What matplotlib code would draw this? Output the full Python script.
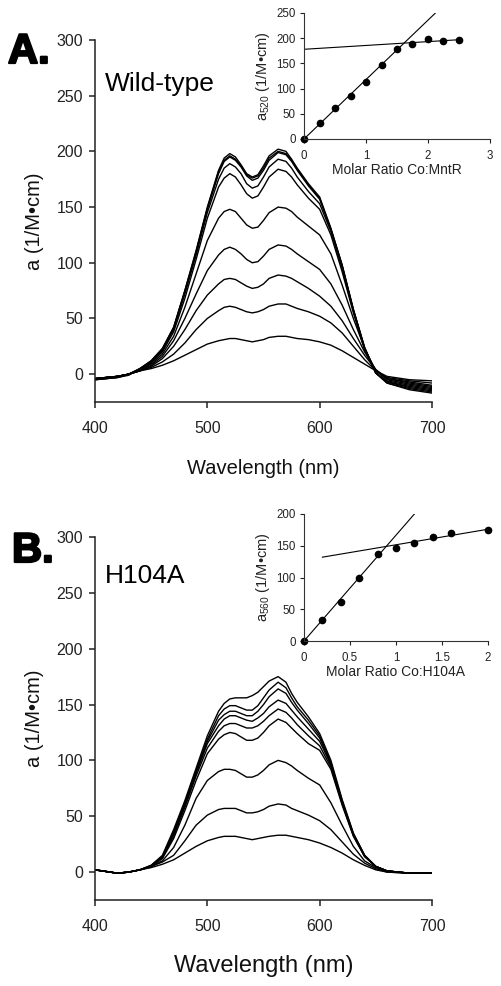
import matplotlib
matplotlib.use("Agg")
import matplotlib.pyplot as plt
import matplotlib.patheffects as pe

plt.rcParams['font.family'] = ['Liberation Sans', 'DejaVu Sans']
plt.rcParams['mathtext.fontset'] = 'custom'
plt.rcParams['mathtext.rm'] = 'Liberation Sans'

# ---------------- data ----------------
wavelength = [400, 420, 430, 440, 450, 460, 470, 480, 490, 500, 510, 515, 520, 525, 530, 535, 540,
              545, 550, 555, 563, 570, 575, 580, 590, 600, 610, 620, 630, 640, 650, 660, 680, 700]

# Panel A (wild-type) spectra, a (1/M*cm)
wt_1 = [-4, -2, 0, 3, 5, 8, 12, 17, 22, 27, 30, 31, 32, 32, 31, 30, 29, 30, 31, 33, 34, 34, 33, 32, 31, 29, 26, 21, 15, 9, 3, -2, -5, -6]
wt_2 = [-4, -2, 0, 3, 6, 11, 18, 28, 40, 50, 57, 60, 61, 60, 58, 56, 55, 56, 58, 61, 63, 63, 61, 59, 56, 52, 46, 37, 25, 13, 3, -3, -6, -8]
wt_3 = [-4, -2, 0, 3, 7, 14, 25, 40, 57, 71, 81, 85, 86, 85, 82, 79, 77, 78, 81, 86, 89, 88, 86, 83, 77, 70, 61, 48, 32, 17, 4, -4, -7, -10]
wt_4 = [-4, -2, 0, 3, 8, 16, 30, 50, 72, 93, 107, 112, 114, 112, 108, 103, 100, 101, 106, 112, 116, 115, 112, 108, 101, 94, 81, 62, 40, 20, 4, -4, -8, -11]
wt_5 = [-4, -2, 0, 4, 9, 18, 34, 60, 90, 120, 140, 146, 148, 146, 140, 134, 131, 132, 138, 145, 150, 149, 146, 141, 133, 125, 108, 80, 50, 23, 3, -5, -9, -12]
wt_6 = [-4, -2, 0, 4, 10, 20, 38, 68, 103, 140, 168, 176, 180, 177, 170, 162, 158, 160, 168, 177, 184, 182, 177, 170, 158, 148, 125, 92, 55, 22, 1, -6, -10, -13]
wt_7 = [-4, -2, 0, 4, 11, 21, 40, 72, 107, 145, 175, 185, 189, 186, 180, 171, 167, 169, 177, 186, 193, 191, 185, 177, 164, 153, 128, 95, 57, 23, 1, -7, -11, -14]
wt_8 = [-5, -3, 0, 5, 11, 22, 41, 74, 109, 148, 180, 191, 195, 192, 186, 178, 174, 176, 183, 192, 199, 197, 191, 183, 169, 157, 130, 97, 58, 23, 1, -7, -12, -15]
wt_9 = [-5, -3, 0, 5, 12, 23, 42, 75, 110, 149, 182, 192, 196, 193, 187, 179, 176, 178, 185, 194, 200, 198, 192, 184, 170, 158, 130, 98, 58, 24, 1, -8, -13, -16]
wt_10 = [-5, -3, -1, 5, 12, 23, 42, 75, 111, 150, 183, 194, 198, 195, 188, 180, 177, 179, 187, 196, 202, 200, 193, 185, 171, 159, 131, 98, 58, 24, 1, -8, -14, -17]
wt_spectra = [wt_1, wt_2, wt_3, wt_4, wt_5, wt_6, wt_7, wt_8, wt_9, wt_10]

# Panel B (H104A) spectra
h_1 = [2, -1, 0, 2, 4, 7, 11, 17, 23, 28, 31, 32, 32, 32, 31, 30, 29, 30, 31, 32, 33, 33, 32, 31, 29, 26, 22, 17, 11, 6, 2, 0, -1, -1]
h_2 = [2, -1, 0, 2, 5, 9, 15, 28, 42, 51, 56, 57, 57, 57, 55, 53, 53, 54, 56, 59, 61, 60, 57, 55, 51, 46, 38, 27, 16, 8, 3, 0, -1, -1]
h_3 = [2, -1, 0, 2, 5, 10, 22, 42, 66, 82, 90, 92, 92, 91, 88, 85, 85, 87, 91, 96, 100, 98, 95, 91, 84, 78, 62, 42, 23, 10, 4, 1, -1, -1]
h_4 = [2, -1, 0, 2, 5, 12, 30, 55, 82, 106, 119, 123, 125, 124, 121, 118, 118, 120, 125, 131, 137, 134, 129, 124, 115, 109, 92, 60, 32, 14, 5, 1, -1, -1]
h_5 = [2, -1, 0, 2, 5, 13, 32, 58, 86, 111, 126, 131, 133, 133, 131, 129, 129, 131, 135, 140, 146, 143, 138, 132, 122, 113, 94, 61, 33, 14, 5, 1, -1, -1]
h_6 = [2, -1, 0, 2, 5, 13, 34, 60, 88, 115, 131, 137, 140, 140, 138, 136, 135, 138, 142, 148, 154, 151, 145, 139, 128, 117, 96, 62, 33, 14, 5, 1, -1, -1]
h_7 = [2, -1, 0, 2, 6, 14, 35, 61, 90, 117, 136, 141, 144, 144, 142, 140, 140, 144, 150, 157, 164, 160, 152, 145, 133, 120, 97, 63, 34, 15, 5, 1, -1, -1]
h_8 = [2, -1, 0, 2, 6, 14, 36, 62, 91, 119, 140, 146, 149, 149, 147, 145, 145, 149, 156, 163, 170, 165, 156, 148, 136, 122, 98, 64, 34, 15, 5, 1, -1, -1]
h_9 = [2, -1, 0, 2, 6, 15, 38, 64, 93, 122, 144, 151, 155, 156, 156, 156, 158, 161, 166, 171, 175, 170, 160, 152, 139, 124, 100, 65, 35, 15, 5, 1, -1, -1]
h_spectra = [h_1, h_2, h_3, h_4, h_5, h_6, h_7, h_8, h_9]

# Inset A: a520 vs molar ratio Co:MntR
wt_ratio = [0, 0.25, 0.5, 0.75, 1.0, 1.25, 1.5, 1.75, 2.0, 2.25, 2.5]
wt_a520 = [0, 32, 61, 86, 114, 147, 179, 189, 198, 195, 196]
wt_fit1_x = [0, 2.12]
wt_fit1_y = [0, 250]
wt_fit2_x = [0, 2.5]
wt_fit2_y = [178, 197]

# Inset B: a560 vs molar ratio Co:H104A
h_ratio = [0, 0.2, 0.4, 0.6, 0.8, 1.0, 1.2, 1.4, 1.6, 2.0]
h_a560 = [0, 33, 61, 100, 137, 146, 154, 164, 170, 175]
h_fit1_x = [0, 1.2]
h_fit1_y = [0, 200]
h_fit2_x = [0.2, 2.0]
h_fit2_y = [132, 176]

main_yticks = [0, 50, 100, 150, 200, 250, 300]
main_xticks = [400, 500, 600, 700]

# ---------------- figure ----------------
W, H = 502, 986
fig = plt.figure(figsize=(W / 100, H / 100), dpi=100)


def frac(left, top, right, bottom):
    return [left / W, 1 - bottom / H, (right - left) / W, (bottom - top) / H]


def style_main(ax, xlabel_size, xlabel_pad):
    for s in ['top', 'right']:
        ax.spines[s].set_visible(False)
    for s in ['left', 'bottom']:
        ax.spines[s].set_linewidth(1.1)
        ax.spines[s].set_color('#222222')
    ax.set_xlim(400, 700)
    ax.set_ylim(-25, 300)
    ax.set_xticks(main_xticks)
    ax.set_yticks(main_yticks)
    ax.tick_params(axis='x', direction='out', length=4.5, width=1.1, labelsize=11.5, pad=9, colors='#222222')
    ax.tick_params(axis='y', direction='out', length=4.5, width=1.1, labelsize=11.5, pad=4, colors='#222222')
    ax.set_xlabel('Wavelength (nm)', fontsize=xlabel_size, labelpad=xlabel_pad, color='#111111')
    ax.set_ylabel('a (1/M•cm)', fontsize=14.5, labelpad=9, color='#111111')


def style_inset(ax, xmax, xticks, ymax, yticks, xlabel, ylabel):
    for s in ['top', 'right']:
        ax.spines[s].set_visible(False)
    for s in ['left', 'bottom']:
        ax.spines[s].set_linewidth(0.8)
        ax.spines[s].set_color('#333333')
    ax.set_xlim(0, xmax)
    ax.set_ylim(0, ymax)
    ax.set_xticks(xticks)
    ax.set_xticklabels([f'{t:g}' for t in xticks])
    ax.set_yticks(yticks)
    ax.tick_params(direction='out', length=3, width=0.8, labelsize=8.3, pad=3, colors='#222222')
    ax.tick_params(axis='x', pad=5)
    ax.set_xlabel(xlabel, fontsize=10, labelpad=1, color='#222222')
    ax.set_ylabel(ylabel, fontsize=10.5, labelpad=3, color='#222222')
    ax.patch.set_alpha(0)


heavy = [pe.withStroke(linewidth=1.6, foreground='black')]

# Panel A main
axA = fig.add_axes(frac(95, 40, 432, 402))
for spec in wt_spectra:
    axA.plot(wavelength, spec, color='black', lw=1.0, solid_joinstyle='round')
style_main(axA, 14.5, 17)
axA.text(409, 254, 'Wild-type', fontsize=19, color='black')
fig.text(8 / W, 1 - 63 / H, 'A.', fontsize=30, fontweight='bold', color='black', path_effects=heavy)

# Panel A inset
axAi = fig.add_axes(frac(304, 13, 490, 139))
axAi.plot(wt_fit1_x, wt_fit1_y, color='black', lw=0.8)
axAi.plot(wt_fit2_x, wt_fit2_y, color='black', lw=0.8)
axAi.plot(wt_ratio, wt_a520, 'o', color='black', ms=4.5, clip_on=False)
style_inset(axAi, 3, [0, 1, 2, 3], 250, [0, 50, 100, 150, 200, 250],
            'Molar Ratio Co:MntR', r'a$_{\mathregular{520}}$ (1/M•cm)')

# Panel B main
axB = fig.add_axes(frac(95, 537, 432, 900))
for spec in h_spectra:
    axB.plot(wavelength, spec, color='black', lw=1.0, solid_joinstyle='round')
style_main(axB, 17, 15)
axB.text(409, 259, 'H104A', fontsize=19, color='black')
fig.text(12 / W, 1 - 562 / H, 'B.', fontsize=30, fontweight='bold', color='black', path_effects=heavy)

# Panel B inset
axBi = fig.add_axes(frac(304, 514, 488, 641))
axBi.plot(h_fit1_x, h_fit1_y, color='black', lw=0.8)
axBi.plot(h_fit2_x, h_fit2_y, color='black', lw=0.8)
axBi.plot(h_ratio, h_a560, 'o', color='black', ms=4.5, clip_on=False)
style_inset(axBi, 2, [0, 0.5, 1, 1.5, 2], 200, [0, 50, 100, 150, 200],
            'Molar Ratio Co:H104A', r'a$_{\mathregular{560}}$ (1/M•cm)')

fig.savefig('out.png', dpi=100)
